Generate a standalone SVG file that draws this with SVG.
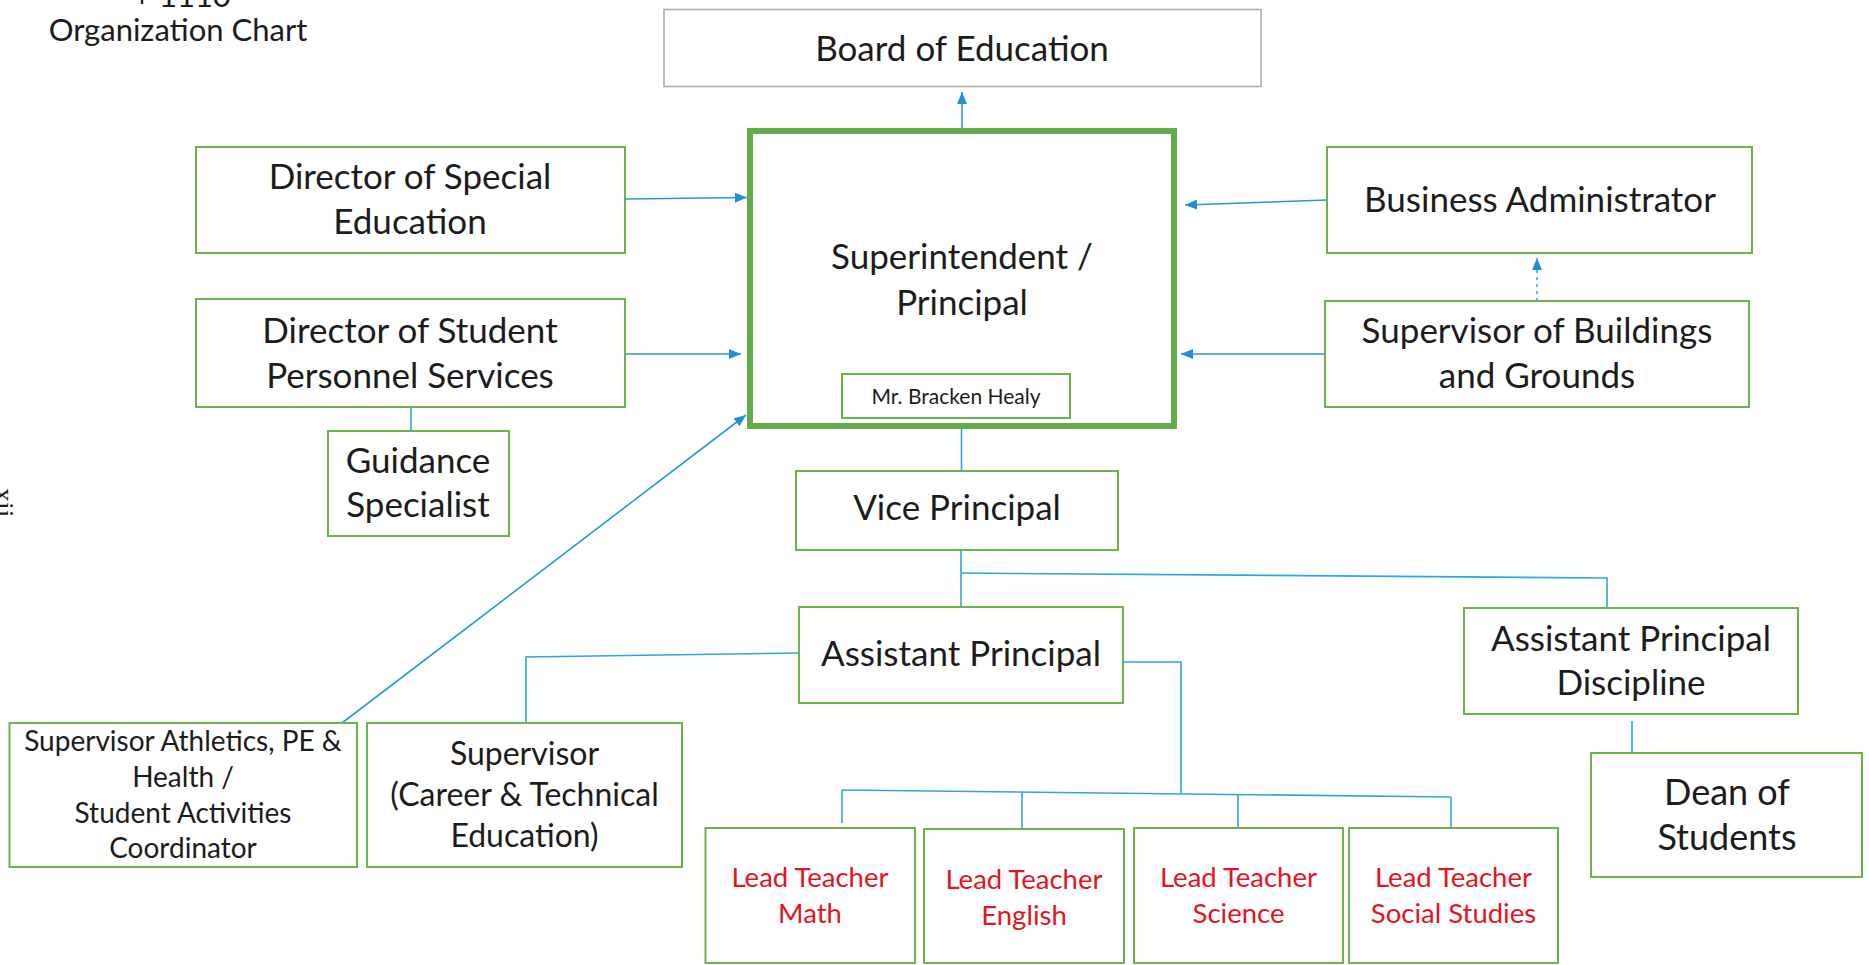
<svg xmlns="http://www.w3.org/2000/svg" width="1869" height="965" viewBox="0 0 1869 965">
  <style>
    .box { fill: #ffffff; stroke: #6cb34a; stroke-width: 2; }
    .board { fill: #ffffff; stroke: #a6ae98; stroke-width: 1.5; }
    .main { fill: #ffffff; stroke: #62ad48; stroke-width: 6; }
    text { font-family: Lato, "Open Sans", "Liberation Sans", sans-serif; fill: #1c1c1c; text-anchor: middle; }
    .t35 { font-size: 35px; }
    .t32 { font-size: 32px; }
    .t28 { font-size: 28px; }
    .red { font-size: 27.5px; fill: #e3141f; }
    .link { fill: none; stroke: #2ca6de; stroke-width: 1.6; }
    .arrow { fill: none; stroke: #2299db; stroke-width: 1.6; marker-end: url(#head); }
    .dash { fill: none; stroke: #2299db; stroke-width: 1.4; stroke-dasharray: 3 4; marker-end: url(#head); }
  </style>
  <defs>
    <marker id="head" viewBox="0 0 12 10" refX="12" refY="5" markerWidth="12" markerHeight="10" markerUnits="userSpaceOnUse" orient="auto">
      <path d="M0,0 L12,5 L0,10 z" fill="#1f90d8"/>
    </marker>
  </defs>
  <rect width="1869" height="965" fill="#ffffff"/>

  <!-- page header and margin page number -->
  <g id="header">
    <text x="133" y="7" style="font-size:31px;text-anchor:start">+ 1110</text>
    <text x="178" y="41" style="font-size:31px">Organization Chart</text>
    <text transform="translate(-5,488) rotate(90)" style="font-family:'Liberation Serif',serif;font-size:28px;text-anchor:start">xii</text>
  </g>

  <!-- connectors -->
  <g id="connectors">
    <line class="arrow" x1="962" y1="128" x2="962" y2="92"/>
    <line class="arrow" x1="625" y1="199" x2="747" y2="197.5"/>
    <line class="arrow" x1="625" y1="354" x2="741" y2="354"/>
    <line class="arrow" x1="342" y1="723" x2="746" y2="415"/>
    <line class="arrow" x1="1327" y1="200" x2="1185" y2="205"/>
    <line class="arrow" x1="1325" y1="354" x2="1181" y2="354"/>
    <line class="dash" x1="1537" y1="301" x2="1537" y2="258"/>
    <line class="link" x1="411" y1="407" x2="411" y2="431"/>
    <line class="link" x1="961.5" y1="418" x2="961.5" y2="471"/>
    <line class="link" x1="961" y1="550" x2="961" y2="607"/>
    <polyline class="link" points="961,573 1607,578 1607,608"/>
    <polyline class="link" points="799,653 526,657 526,723"/>
    <polyline class="link" points="1123,662 1181,662 1181,793"/>
    <line class="link" x1="842" y1="790" x2="1451" y2="797"/>
    <line class="link" x1="842" y1="790" x2="842" y2="823"/>
    <line class="link" x1="1022" y1="792" x2="1022" y2="829"/>
    <line class="link" x1="1238" y1="795" x2="1238" y2="828"/>
    <line class="link" x1="1451" y1="797" x2="1451" y2="828"/>
    <line class="link" x1="1632" y1="721" x2="1632" y2="753"/>
  </g>

  <g id="board">
    <rect class="board" x="664" y="9.5" width="597" height="77"/>
    <text class="t35" x="962" y="61">Board of Education</text>
  </g>

  <g id="superintendent">
    <rect class="main" x="750" y="131" width="424" height="295"/>
    <text class="t35" x="962" y="269">Superintendent /</text>
    <text class="t35" x="962" y="315">Principal</text>
  </g>

  <g id="name-tag">
    <rect class="box" x="842" y="374" width="228" height="44"/>
    <text x="956" y="404" style="font-size:21px">Mr. Bracken Healy</text>
  </g>

  <g id="dir-special-ed">
    <rect class="box" x="196" y="147" width="429" height="106"/>
    <text class="t35" x="410" y="189">Director of Special</text>
    <text class="t35" x="410" y="234">Education</text>
  </g>

  <g id="dir-student-services">
    <rect class="box" x="196" y="299" width="429" height="108"/>
    <text class="t35" x="410" y="343">Director of Student</text>
    <text class="t35" x="410" y="388">Personnel Services</text>
  </g>

  <g id="guidance">
    <rect class="box" x="328" y="431" width="181" height="105"/>
    <text class="t35" x="418" y="473">Guidance</text>
    <text class="t35" x="418" y="517">Specialist</text>
  </g>

  <g id="athletics">
    <rect class="box" x="9.5" y="723" width="347.5" height="144"/>
    <text class="t28" x="183" y="751">Supervisor Athletics, PE &amp;</text>
    <text class="t28" x="183" y="787">Health /</text>
    <text class="t28" x="183" y="823">Student Activities</text>
    <text class="t28" x="183" y="858">Coordinator</text>
  </g>

  <g id="career-tech">
    <rect class="box" x="367" y="723" width="315" height="144"/>
    <text class="t32" x="524.5" y="765">Supervisor</text>
    <text class="t32" x="524.5" y="806">(Career &amp; Technical</text>
    <text class="t32" x="524.5" y="847">Education)</text>
  </g>

  <g id="vice-principal">
    <rect class="box" x="796" y="471" width="322" height="79"/>
    <text class="t35" x="957" y="520">Vice Principal</text>
  </g>

  <g id="assistant-principal">
    <rect class="box" x="799" y="607" width="324" height="96"/>
    <text class="t35" x="961" y="666">Assistant Principal</text>
  </g>

  <g id="ap-discipline">
    <rect class="box" x="1464" y="608" width="334" height="106"/>
    <text class="t35" x="1631" y="651">Assistant Principal</text>
    <text class="t35" x="1631" y="695">Discipline</text>
  </g>

  <g id="dean">
    <rect class="box" x="1591" y="753" width="271" height="124"/>
    <text x="1727" y="805" style="font-size:36px">Dean of</text>
    <text x="1727" y="850" style="font-size:36px">Students</text>
  </g>

  <g id="business-admin">
    <rect class="box" x="1327" y="147" width="425" height="106"/>
    <text class="t35" x="1540" y="212">Business Administrator</text>
  </g>

  <g id="buildings-grounds">
    <rect class="box" x="1325" y="301" width="424" height="106"/>
    <text class="t35" x="1537" y="343">Supervisor of Buildings</text>
    <text class="t35" x="1537" y="388">and Grounds</text>
  </g>

  <g id="lead-math">
    <rect class="box" x="705.5" y="828" width="209.5" height="135"/>
    <text class="red" x="810" y="887">Lead Teacher</text>
    <text class="red" x="810" y="923">Math</text>
  </g>

  <g id="lead-english">
    <rect class="box" x="924" y="829" width="200" height="134"/>
    <text class="red" x="1024" y="889">Lead Teacher</text>
    <text class="red" x="1024" y="925">English</text>
  </g>

  <g id="lead-science">
    <rect class="box" x="1134" y="828" width="209" height="135"/>
    <text class="red" x="1238.5" y="887">Lead Teacher</text>
    <text class="red" x="1238.5" y="923">Science</text>
  </g>

  <g id="lead-social">
    <rect class="box" x="1349" y="828" width="209" height="135"/>
    <text class="red" x="1453.5" y="887">Lead Teacher</text>
    <text class="red" x="1453.5" y="923">Social Studies</text>
  </g>
</svg>
